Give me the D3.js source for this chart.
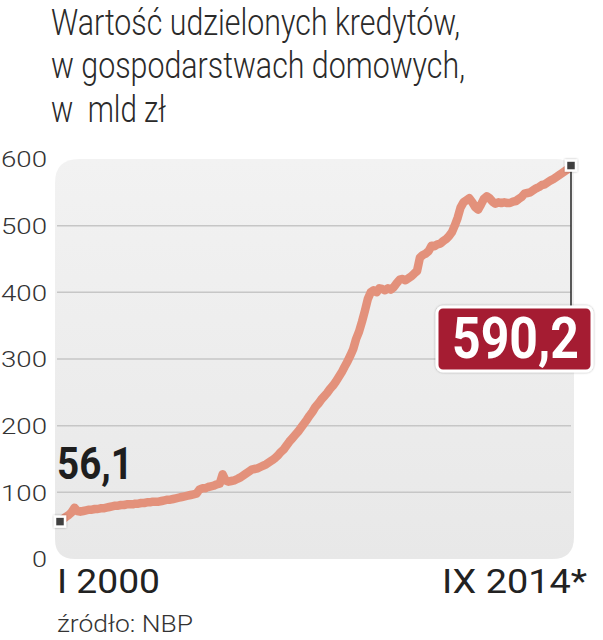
<!DOCTYPE html>
<html><head><meta charset="utf-8">
<script src="https://cdn.jsdelivr.net/npm/d3@7"></script>
<style>
html,body{margin:0;padding:0;background:#fff;}
svg{display:block;}
text{font-family:Roboto,"Open Sans","DejaVu Sans",sans-serif;}
</style></head>
<body>
<script>
// ---- data ----
const titleLines = ["Wartość udzielonych kredytów,", "w gospodarstwach domowych,", "w  mld zł"];
const startLabel = "I 2000";
const endLabel = "IX 2014*";
const sourceLabel = "źródło: NBP";
const yTicks = [0, 100, 200, 300, 400, 500, 600];
const startYear = 2000, startMonth = 0; // January 2000, monthly series
const values = [
  // 2000
  56.1, 60, 63, 66, 70, 77, 72, 71, 72, 73, 74, 74,
  // 2001
  75, 75, 76, 76, 77, 78, 79, 80, 80, 81, 81, 82,
  // 2002
  82, 82, 83, 83, 84, 84, 85, 85, 86, 86, 86, 87,
  // 2003
  88, 89, 89, 90, 91, 92, 93, 94, 95, 96, 97, 98,
  // 2004
  104, 106, 106, 108, 109, 110, 112, 113, 127, 118, 116, 117,
  // 2005
  118, 120, 122, 125, 128, 131, 134, 135, 136, 138, 140, 142,
  // 2006
  145, 148, 151, 155, 160, 164, 170, 176, 181, 186, 191, 197,
  // 2007
  203, 209, 215, 221, 228, 233, 239, 244, 249, 255, 260, 266,
  // 2008
  273, 280, 288, 296, 305, 315, 330, 341, 356, 372, 390, 400,
  // 2009
  403, 400, 406, 405, 403, 406, 404, 408, 414, 419, 420, 418,
  // 2010
  421, 424, 428, 432, 452, 456, 458, 462, 470, 469, 472, 473,
  // 2011
  477, 480, 484, 490, 500, 512, 527, 535, 538, 541, 535, 528,
  // 2012
  524, 532, 540, 544, 541, 536, 533, 535, 534, 535, 534, 534,
  // 2013
  536, 537, 540, 543, 548, 549, 550, 553, 556, 558, 561, 562,
  // 2014
  565, 568, 570, 573, 576, 579, 582, 585, 590.2
];
const startValueLabel = "56,1";
const endValueLabel = "590,2";

// ---- chart ----
const W = 603, H = 640;
const svg = d3.select("body").append("svg").attr("width", W).attr("height", H);

const dates = values.map((v, i) => new Date(startYear, startMonth + i, 1));
const data = values.map((v, i) => ({date: dates[i], value: v}));

const x = d3.scaleTime().domain([dates[0], dates[dates.length - 1]]).range([60, 571]);
const y = d3.scaleLinear().domain([0, 600]).range([559, 159]);

// gradient panel
const defs = svg.append("defs");
const grad = defs.append("linearGradient").attr("id", "bg").attr("x1", 0).attr("y1", 0).attr("x2", 0).attr("y2", 1);
grad.append("stop").attr("offset", "0%").attr("stop-color", "#f2f2f2");
grad.append("stop").attr("offset", "100%").attr("stop-color", "#e8e8e8");
const sh = defs.append("filter").attr("id", "sh").attr("x", "-30%").attr("y", "-30%").attr("width", "160%").attr("height", "160%");
sh.append("feDropShadow").attr("dx", 0).attr("dy", 0).attr("stdDeviation", 1.2).attr("flood-color", "#000").attr("flood-opacity", 0.35);

const px0 = 55, px1 = 574, py0 = y(600), py1 = y(0);
const rTL = 24, rTR = 18, rBR = 22, rBL = 20;
const panelPath = `M${px0},${py0 + rTL} Q${px0},${py0} ${px0 + rTL},${py0}
  L${px1 - rTR},${py0} Q${px1},${py0} ${px1},${py0 + rTR}
  L${px1},${py1 - rBR} Q${px1},${py1} ${px1 - rBR},${py1}
  L${px0 + rBL},${py1} Q${px0},${py1} ${px0},${py1 - rBL} Z`;
svg.append("path").attr("d", panelPath).attr("fill", "url(#bg)");

// gridlines
svg.append("g").selectAll("line").data(yTicks.filter(t => t > 0 && t < 600)).join("line")
  .attr("x1", 57).attr("x2", 571)
  .attr("y1", d => y(d)).attr("y2", d => y(d))
  .attr("stroke", "#c6c6c6").attr("stroke-width", 1.5);

// y axis labels
const yAxis = d3.axisLeft(y).tickValues(yTicks).tickSize(0).tickPadding(0).tickFormat(d3.format("d"));
const gy = svg.append("g").attr("transform", "translate(47,0)").call(yAxis);
gy.select(".domain").remove();
gy.selectAll("text").attr("font-size", 22).attr("font-weight", 300).attr("fill", "#333")
  .attr("font-family", "Roboto, 'Open Sans', sans-serif").attr("dy", "0.35em")
  .attr("textLength", d => d === 0 ? 15 : 46).attr("lengthAdjust", "spacingAndGlyphs");

// line
const line = d3.line().x(d => x(d.date)).y(d => y(d.value)).curve(d3.curveLinear);
svg.append("path").datum(data).attr("d", line)
  .attr("fill", "none").attr("stroke", "#e3917b").attr("stroke-width", 8.5)
  .attr("stroke-linejoin", "round").attr("stroke-linecap", "round");

// end connector line
const last = data[data.length - 1], first = data[0];
svg.append("line").attr("x1", x(last.date)).attr("x2", x(last.date))
  .attr("y1", y(last.value)).attr("y2", 307).attr("stroke", "#333").attr("stroke-width", 1.6);

// markers
svg.append("g").selectAll("rect").data([first, last]).join("rect")
  .attr("x", d => x(d.date) - 5).attr("y", d => y(d.value) - 5)
  .attr("width", 10).attr("height", 10)
  .attr("fill", "#404040").attr("stroke", "#fff").attr("stroke-width", 2.5)
  .attr("filter", "url(#sh)");

// end value box
svg.append("rect").attr("x", 437).attr("y", 307).attr("width", 155).attr("height", 64)
  .attr("rx", 6).attr("fill", "#a51a30").attr("stroke", "#fff").attr("stroke-width", 3)
  .attr("filter", "url(#sh)");
svg.append("text").attr("x", 452).attr("y", 358).text(endValueLabel)
  .attr("font-size", 58).attr("font-weight", 700).attr("fill", "#fff")
  .attr("textLength", 127).attr("lengthAdjust", "spacingAndGlyphs");

// start value label
svg.append("text").attr("x", 57).attr("y", 479).text(startValueLabel)
  .attr("font-size", 44).attr("font-weight", 700).attr("fill", "#1e1e1e")
  .attr("textLength", 76).attr("lengthAdjust", "spacingAndGlyphs");

// title
const tl = [{t: titleLines[0], y: 35, w: 409}, {t: titleLines[1], y: 78, w: 414}, {t: titleLines[2], y: 122, w: 115}];
svg.append("g").selectAll("text").data(tl).join("text")
  .attr("x", 51).attr("y", d => d.y).text(d => d.t)
  .attr("font-size", 37).attr("font-weight", 300).attr("fill", "#2a2a2a")
  .style("white-space", "pre")
  .attr("textLength", d => d.w).attr("lengthAdjust", "spacingAndGlyphs");

// x labels
svg.append("text").attr("x", 57).attr("y", 593).text(startLabel)
  .attr("font-size", 34).attr("font-weight", 400).attr("fill", "#222")
  .attr("textLength", 103).attr("lengthAdjust", "spacingAndGlyphs");
svg.append("text").attr("x", 442).attr("y", 593).text(endLabel)
  .attr("font-size", 34).attr("font-weight", 400).attr("fill", "#222")
  .attr("textLength", 145).attr("lengthAdjust", "spacingAndGlyphs");

// source
svg.append("text").attr("x", 57).attr("y", 632).text(sourceLabel)
  .attr("font-size", 24).attr("font-weight", 300).attr("fill", "#333")
  .attr("textLength", 136).attr("lengthAdjust", "spacingAndGlyphs");
</script>
</body></html>
